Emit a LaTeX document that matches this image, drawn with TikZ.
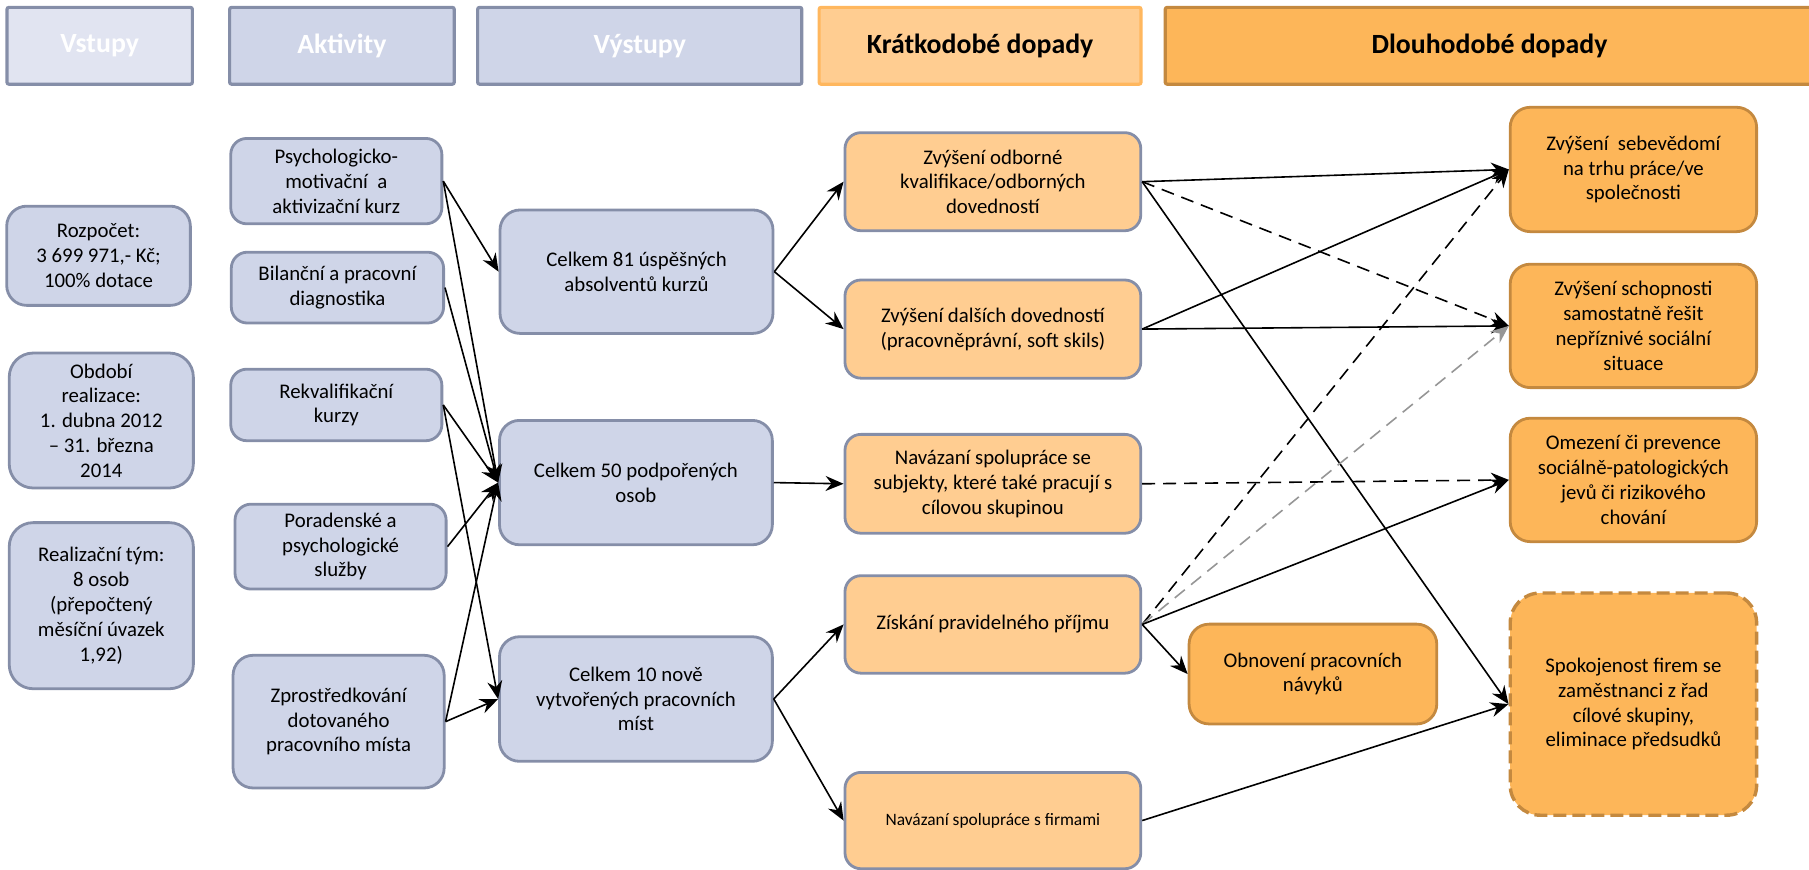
\documentclass[tikz,border=0pt]{standalone}
\usepackage{fontspec}
\setmainfont{Carlito}
\usetikzlibrary{arrows.meta}
\definecolor{bfill}{RGB}{207,213,232}
\definecolor{bfillL}{RGB}{225,228,241}
\definecolor{bline}{RGB}{133,142,168}
\definecolor{ofillL}{RGB}{255,205,145}
\definecolor{olineL}{RGB}{255,183,94}
\definecolor{ofill}{RGB}{253,182,89}
\definecolor{oline}{RGB}{196,137,63}
\definecolor{grayarr}{RGB}{150,150,150}
\begin{document}
\begin{tikzpicture}[x=0.57685pt, y=-0.57685pt,
  sz/.style 2 args={minimum width=#1*0.57685pt, minimum height=#2*0.57685pt},
  base/.style={draw, line width=1.4pt, align=center, inner sep=2pt,
     font=\fontsize{10.4}{12.4}\selectfont, rounded corners=8pt},
  hdr/.style={draw, line width=1.6pt, align=center, inner sep=2pt,
     font=\fontsize{13.9}{16}\selectfont\bfseries, rounded corners=1pt},
  bluebox/.style={base, fill=bfill, draw=bline},
  lorange/.style={base, fill=ofillL, draw=bline},
  dorange/.style={base, fill=ofill, draw=oline, rounded corners=10pt},
  arr/.style={-{Stealth[length=9pt,width=7.5pt,inset=3pt]}, line width=0.8pt, black},
  dashline/.style={dash pattern=on 6.5pt off 4pt},
]
\useasboundingbox (0,0) rectangle (1568,754);

% headers
\node[hdr, fill=bfillL, draw=bline, text=white, sz={160.7}{66.6}] (hV) at (86.4,39.7) {Vstupy};
\node[hdr, fill=bfill, draw=bline, text=white, sz={194.7}{66.6}] (hA) at (296.4,39.7) {Aktivity};
\node[hdr, fill=bfill, draw=bline, text=white, sz={281}{66.6}] (hO) at (554.5,39.7) {Výstupy};
\node[hdr, fill=ofillL, draw=olineL, text=black, sz={279}{66.6}] (hK) at (849.5,39.7) {Krátkodobé dopady};
\node[hdr, fill=ofill, draw=oline, text=black, sz={562}{66.6}] (hD) at (1291,39.7) {Dlouhodobé dopady};

% inputs
\node[bluebox, rounded corners=10pt, sz={159.2}{86}] (in1) at (85.4,221.7) {Rozpočet:\\3 699 971,- Kč;\\100\% dotace};
\node[bluebox, rounded corners=12pt, sz={159.6}{117}] (in2) at (87.8,364.5) {Období\\realizace:\\1. dubna 2012\\– 31. března\\2014};
\node[bluebox, rounded corners=12pt, sz={159.6}{144}] (in3) at (87.8,525) {Realizační tým:\\8 osob\\(přepočtený\\měsíční úvazek\\1,92)};

% activities
\node[bluebox, sz={183}{74}] (a1) at (291.5,157) {Psychologicko-\\motivační~ a\\aktivizační kurz};
\node[bluebox, sz={184}{61.4}] (a2) at (292.5,249.3) {Bilanční a pracovní\\diagnostika};
\node[bluebox, sz={183}{62}] (a3) at (291.5,351) {Rekvalifikační\\kurzy};
\node[bluebox, sz={183}{73.6}] (a4) at (295.2,473.8) {Poradenské a\\psychologické\\služby};
\node[bluebox, rounded corners=10pt, sz={183}{115}] (a5) at (293.5,625.5) {Zprostředkování\\dotovaného\\pracovního místa};

% outputs
\node[bluebox, rounded corners=10pt, sz={236.6}{107}] (o1) at (551.7,235.5) {Celkem 81 úspěšných\\absolventů kurzů};
\node[bluebox, rounded corners=10pt, sz={236.5}{107.8}] (o2) at (551.2,418.3) {Celkem 50 podpořených\\osob};
\node[bluebox, rounded corners=10pt, sz={236.5}{108}] (o3) at (551.2,605.9) {Celkem 10 nově\\vytvořených pracovních\\míst};

% short-term
\node[lorange, sz={256.4}{85}] (s1) at (860.6,157.5) {Zvýšení odborné\\kvalifikace/odborných\\dovedností};
\node[lorange, sz={256.4}{85.1}] (s2) at (860.6,285.25) {Zvýšení dalších dovedností\\(pracovněprávní, soft skils)};
\node[lorange, sz={256.4}{85.7}] (s3) at (860.6,419.35) {Navázaní spolupráce se\\subjekty, které také pracují s\\cílovou skupinou};
\node[lorange, sz={256.4}{84.5}] (s4) at (860.6,541.25) {Získání pravidelného příjmu};
\node[lorange, sz={256.4}{83.5}, font=\fontsize{8.7}{10.5}\selectfont] (s5) at (860.6,711.25) {Navázaní spolupráce s firmami};
\node[dorange, sz={214.7}{86.5}] (s6) at (1138,584.25) {Obnovení pracovních\\návyků};

% long-term
\node[dorange, sz={213.6}{107.8}] (l1) at (1415.8,146.9) {Zvýšení~ sebevědomí\\na trhu práce/ve\\společnosti};
\node[dorange, sz={213.6}{107}] (l2) at (1415.8,282.5) {Zvýšení schopnosti\\samostatně řešit\\nepříznivé sociální\\situace};
\node[dorange, sz={213.6}{107}] (l3) at (1415.8,416) {Omezení či prevence\\sociálně-patologických\\jevů či rizikového\\chování};
\node[dorange, rounded corners=15pt, line width=1.7pt, dash pattern=on 6.5pt off 3pt, sz={213.6}{192.6}] (l4) at (1415.8,610.3) {Spokojenost firem se\\zaměstnanci z řad\\cílové skupiny,\\eliminace předsudků};

% activities -> outputs
\draw[arr] (a1.east) -- (o1.west);
\draw[arr] (a1.east) -- (o2.west);
\draw[arr] (a2.east) -- (o2.west);
\draw[arr] (a3.east) -- (o2.west);
\draw[arr] (a3.east) -- (o3.west);
\draw[arr] (a4.east) -- (o2.west);
\draw[arr] (a5.east) -- (o2.west);
\draw[arr] (a5.east) -- (o3.west);

% outputs -> short-term
\draw[arr] (o1.east) -- (s1.west);
\draw[arr] (o1.east) -- (s2.west);
\draw[arr] (o2.east) -- (s3.west);
\draw[arr] (o3.east) -- (s4.west);
\draw[arr] (o3.east) -- (s5.west);

% short-term -> long-term
\draw[arr] (s1.east) -- (l1.west);
\draw[arr, dashline] (s1.east) -- (l2.west);
\draw[arr] (s1.east) -- (l4.west);
\draw[arr] (s2.east) -- (l1.west);
\draw[arr] (s2.east) -- (l2.west);
\draw[arr, dashline] (s3.east) -- (l3.west);
\draw[arr, dashline] (s4.east) -- (l1.west);
\draw[arr, dashline, grayarr] (s4.east) -- (l2.west);
\draw[arr] (s4.east) -- (l3.west);
\draw[arr] (s4.east) -- (s6.west);
\draw[arr] (s5.east) -- (l4.west);
\end{tikzpicture}
\end{document}
